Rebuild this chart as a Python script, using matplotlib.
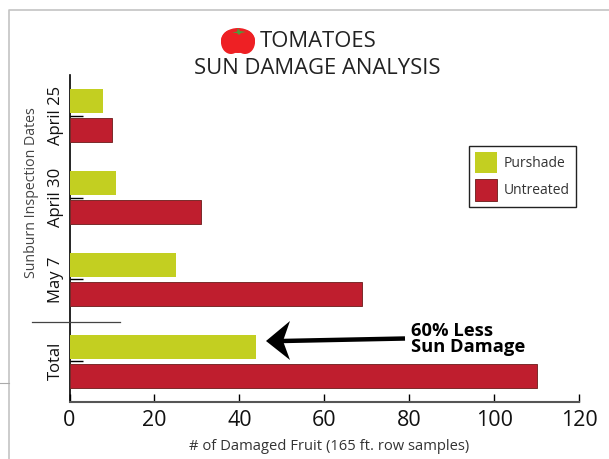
import matplotlib
matplotlib.use('Agg')
import matplotlib.pyplot as plt
from matplotlib.patches import Ellipse, Polygon

W, H = 609, 459

categories = ['Total', 'May 7', 'April 30', 'April 25']
purshade = [44, 25, 11, 8]
untreated = [110, 69, 31, 10]
xticks = [0, 20, 40, 60, 80, 100, 120]

GREEN = '#c3cf21'
RED = '#bf1e2e'
plt.rcParams['font.family'] = ['Open Sans', 'DejaVu Sans']

fig = plt.figure(figsize=(W / 100, H / 100), dpi=100)

# overlay in pixel coords for frame, tomato, arrow
ov = fig.add_axes([0, 0, 1, 1], zorder=3)
ov.set_xlim(0, W)
ov.set_ylim(H, 0)
ov.axis('off')
ov.patch.set_alpha(0)

# axes position from the picture
x0, x1, ytop, ybot = 69.5, 579, 75, 402
ax = fig.add_axes([x0 / W, 1 - ybot / H, (x1 - x0) / W, (ybot - ytop) / H], zorder=2)

pos = list(range(len(categories)))
ax.barh([p + 0.178 for p in pos], purshade, height=0.295, color=GREEN, label='Purshade', zorder=4)
ax.barh([p - 0.178 for p in pos], untreated, height=0.295, color=RED, edgecolor='#7a2a2a',
        linewidth=0.7, label='Untreated', zorder=4)
ax.set_xlim(0, 120)
ax.set_ylim(-0.5, 3.5)
ax.set_xticks(xticks)
ax.set_yticks(pos)
ax.set_yticklabels(categories, rotation=90, va='center', fontsize=12, color='#111111')
ax.tick_params(axis='x', labelsize=15.5, length=5.5, width=1, direction='in', pad=5.5, labelcolor='#111111')
ax.tick_params(axis='y', length=9, width=1, direction='in', pad=4)
for s in ['top', 'right']:
    ax.spines[s].set_visible(False)
ax.spines['left'].set_linewidth(1.2)
ax.spines['left'].set_zorder(1)
ax.spines['bottom'].set_linewidth(1.5)
ax.spines['bottom'].set_color('#555555')
ax.set_xlabel('# of Damaged Fruit (165 ft. row samples)', fontsize=10.6, color='#333333', labelpad=6, x=0.509)

leg = ax.legend(loc='upper left', bbox_to_anchor=((468.5 - x0) / (x1 - x0), (ybot - 145.5) / (ybot - ytop)),
                borderaxespad=0, fontsize=10, frameon=True, fancybox=False, edgecolor='#222222',
                framealpha=1, handlelength=1.6, handleheight=2.0, handletextpad=0.5,
                labelspacing=0.42, borderpad=0.45, labelcolor='#333333')
leg.get_frame().set_linewidth(1)
leg.set_zorder(5)

# outer frame
ov.plot([9, 9, W], [H, 10, 10], color='#c4c4c4', lw=1.2)
ov.plot([0, 9], [383, 383], color='#aaaaaa', lw=0.8)
# separator
ov.plot([32, 120], [321.5, 321.5], color='#444444', lw=0.9)

ov.text(32, 193, 'Sunburn Inspection Dates', rotation=90, ha='center', va='center', fontsize=10.2, color='#444444')

# title and tomato
ov.text(260, 41.5, 'TOMATOES', ha='left', va='center', fontsize=15.8, color='#222222')
ov.text(317.5, 68.5, 'SUN DAMAGE ANALYSIS', ha='center', va='center', fontsize=15.8, color='#222222')
ov.add_patch(Ellipse((238, 40.5), 34, 25, color='#ee2024', lw=0))
ov.add_patch(Ellipse((231, 42), 20, 24, color='#ee2024', lw=0))
ov.add_patch(Ellipse((245, 42), 20, 24, color='#ee2024', lw=0))
ov.add_patch(Polygon([[232, 33], [237, 31.5], [238, 28], [240, 31], [246, 32], [241, 33], [239, 35], [237, 33]],
                     color='#4f9a3c', lw=0))

# arrow
ov.plot([282, 405], [341, 338.5], color='black', lw=3.2, solid_capstyle='butt')
ov.add_patch(Polygon([[266, 341], [290, 321], [283, 341], [290, 360]], color='black', lw=0))
ov.text(411, 331, '60% Less', ha='left', va='center', fontsize=13.2, fontweight='bold', color='black')
ov.text(411, 347.5, 'Sun Damage', ha='left', va='center', fontsize=13.2, fontweight='bold', color='black')

fig.savefig('out.png', dpi=100)
